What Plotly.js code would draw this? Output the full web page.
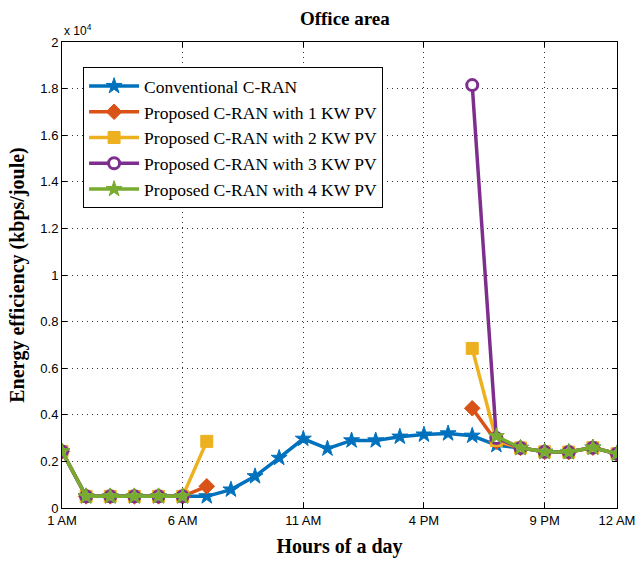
<!DOCTYPE html>
<html>
<head>
<meta charset="utf-8">
<script src="https://cdn.plot.ly/plotly-3.0.1.min.js"></script>
<style>html,body{margin:0;padding:0;background:#fff;}#chart{width:641px;height:561px;}</style>
</head>
<body>
<div id="chart"></div>
<script>
// Hours 1..24 (1 AM .. 12 AM)
const hours = [1,2,3,4,5,6,7,8,9,10,11,12,13,14,15,16,17,18,19,20,21,22,23,24];
const tickHours = [1, 6, 11, 16, 21, 24];
const tickHourLabels = ['1 AM', '6 AM', '11 AM', '4 PM', '9 PM', '12 AM'];
const yTickVals = [0,2000,4000,6000,8000,10000,12000,14000,16000,18000,20000];
const yTickLabels = ['0','0.2','0.4','0.6','0.8','1','1.2','1.4','1.6','1.8','2'];

// Energy efficiency (kbps/joule)
const conventional = [2430,500,500,500,500,500,500,790,1360,2150,2970,2550,2900,2900,3060,3150,3200,3100,2700,2580,2410,2400,2590,2330];
const pv1 = [2430,500,500,500,500,500,930,null,null,null,null,null,null,null,null,null,null,4280,2850,2580,2410,2400,2590,2330];
const pv2 = [2430,500,500,500,500,500,2860,null,null,null,null,null,null,null,null,null,null,6850,2900,2580,2410,2400,2590,2330];
const pv3 = [2430,500,500,500,500,500,null,null,null,null,null,null,null,null,null,null,null,18150,3000,2580,2410,2400,2590,2330];
const pv4 = [2430,500,500,500,500,500,null,null,null,null,null,null,null,null,null,null,null,null,3080,2580,2410,2400,2590,2330];

const seriesNames = ['Conventional C-RAN','Proposed C-RAN with 1 KW PV','Proposed C-RAN with 2 KW PV','Proposed C-RAN with 3 KW PV','Proposed C-RAN with 4 KW PV'];
const colors = ['#0072BD','#D95319','#EDB120','#7E2F8E','#77AC30'];
const symbols = ['star','diamond','square','circle','star'];
const allData = [conventional, pv1, pv2, pv3, pv4];

const traces = allData.map((ys, i) => ({
  x: hours, y: ys, type: 'scatter', mode: 'lines+markers',
  name: seriesNames[i],
  connectgaps: false,
  line: {color: colors[i], width: 3.5},
  marker: {symbol: symbols[i], size: i === 3 ? 11 : 12, color: i === 3 ? '#ffffff' : colors[i],
           line: {color: colors[i], width: i === 3 ? 3 : 1}}
}));

const layout = {
  width: 641, height: 561,
  margin: {l: 62, r: 24, t: 42, b: 53},
  paper_bgcolor: '#fff', plot_bgcolor: '#fff',
  showlegend: true,
  title: {text: '<b>Office area</b>', font: {family: 'Liberation Serif, serif', size: 19, color: '#000'}, x: 0.538, xanchor: 'center', y: 0.968, yanchor: 'middle'},
  xaxis: {
    range: [1, 24], tickvals: tickHours, ticktext: tickHourLabels,
    ticks: 'inside', ticklen: 5, tickcolor: '#000', mirror: 'ticks',
    showline: true, linecolor: '#000', linewidth: 1,
    showgrid: true, gridcolor: '#333', griddash: '1px,4px', gridwidth: 1,
    zeroline: false,
    tickfont: {family: 'Liberation Sans, Arial, sans-serif', size: 13, color: '#000'},
    title: {text: '<b>Hours of a day</b>', font: {family: 'Liberation Serif, serif', size: 20, color: '#000'}, standoff: 12}
  },
  yaxis: {
    range: [0, 20000], tickvals: yTickVals, ticktext: yTickLabels,
    ticks: 'inside', ticklen: 5, tickcolor: '#000', mirror: 'ticks',
    showline: true, linecolor: '#000', linewidth: 1,
    showgrid: true, gridcolor: '#333', griddash: '1px,4px', gridwidth: 1,
    zeroline: false,
    tickfont: {family: 'Liberation Sans, Arial, sans-serif', size: 13, color: '#000'},
    title: {text: '<b>Energy efficiency (kbps/joule)</b>', font: {family: 'Liberation Serif, serif', size: 20, color: '#000'}, standoff: 10}
  },
  legend: {
    x: 0.038, y: 0.946, xanchor: 'left', yanchor: 'top',
    bgcolor: '#fff', bordercolor: '#000', borderwidth: 1,
    font: {family: 'Liberation Serif, serif', size: 17.5, color: '#000'},
    itemwidth: 50
  },
  annotations: [{
    xref: 'paper', yref: 'paper', x: 0, y: 1, xanchor: 'left', yanchor: 'bottom', yshift: 2,
    text: 'x 10<sup>4</sup>', showarrow: false,
    font: {family: 'Liberation Sans, Arial, sans-serif', size: 12, color: '#000'}
  }]
};

Plotly.newPlot('chart', traces, layout, {displayModeBar: false, staticPlot: true});
</script>
</body>
</html>
